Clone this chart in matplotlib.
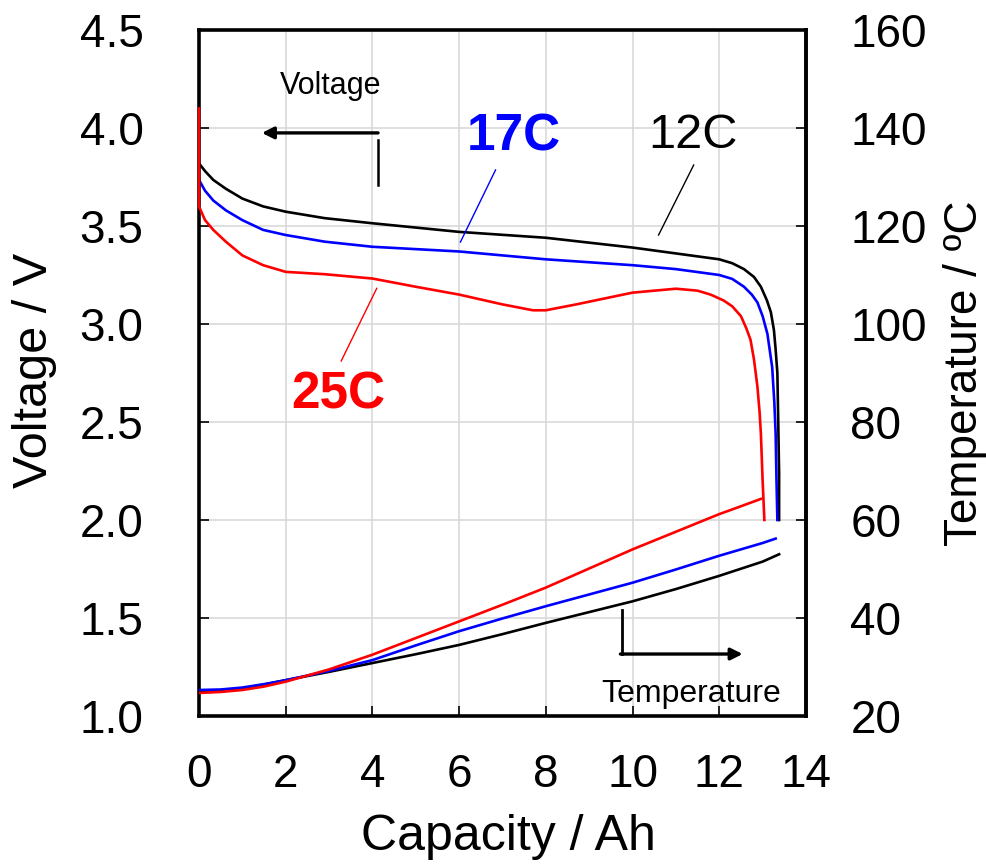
import numpy as np
import matplotlib
matplotlib.use('Agg')
import matplotlib.pyplot as plt

plt.rcParams['font.family'] = ['Liberation Sans', 'DejaVu Sans']

# ---- data (capacity in Ah) ----
# voltage curves (left axis, V)
cap_v12 = [0, 0.14, 0.33, 0.62, 1, 1.48, 2, 2.9, 4, 6, 8, 10, 11, 12, 12.3, 12.57, 12.8,
           12.96, 13.1, 13.19, 13.26, 13.3, 13.34, 13.36, 13.38, 13.38]
v12 = [3.82, 3.78, 3.735, 3.69, 3.64, 3.60, 3.573, 3.54, 3.514, 3.47, 3.44, 3.39, 3.36, 3.33, 3.31, 3.28, 3.24,
       3.19, 3.12, 3.06, 2.97, 2.87, 2.75, 2.5, 2.24, 2.00]

cap_v17 = [0, 0.14, 0.33, 0.62, 1, 1.48, 2, 2.9, 4, 6, 8, 10, 11, 12, 12.3, 12.57, 12.75,
           12.88, 13.0, 13.11, 13.22, 13.27, 13.30, 13.32, 13.34]
v17 = [3.735, 3.68, 3.63, 3.58, 3.53, 3.48, 3.454, 3.42, 3.394, 3.37, 3.33, 3.30, 3.28, 3.25, 3.23, 3.19, 3.15,
       3.11, 3.04, 2.95, 2.78, 2.6, 2.44, 2.2, 2.00]

cap_v25 = [0, 0, 0.14, 0.33, 0.62, 1, 1.48, 2, 2.9, 4, 5, 6, 7, 7.7, 8, 8.7, 10, 11, 11.5, 11.8,
           12.1, 12.3, 12.5, 12.62, 12.72, 12.8, 12.88, 12.93, 12.96, 13.0, 13.04]
v25 = [4.10, 3.60, 3.53, 3.48, 3.42, 3.35, 3.30, 3.266, 3.254, 3.232, 3.19, 3.15, 3.10, 3.07, 3.07, 3.10, 3.16, 3.18, 3.17, 3.15,
       3.12, 3.09, 3.04, 2.98, 2.92, 2.82, 2.68, 2.55, 2.44, 2.2, 2.00]

# temperature curves (right axis, degC)
cap_t12 = [0, 0.5, 1, 1.5, 2, 3, 4, 5, 6, 7, 8, 9, 10, 11, 12, 13, 13.38]
t12 = [24.9, 25.0, 25.6, 26.4, 27.3, 29.0, 30.8, 32.6, 34.5, 36.7, 39.0, 41.2, 43.4, 45.9, 48.6, 51.5, 53.0]

cap_t17 = [0, 0.5, 1, 1.5, 2, 3, 4, 5, 6, 7, 8, 9, 10, 11, 12, 13, 13.3]
t17 = [25.3, 25.4, 25.8, 26.5, 27.3, 29.2, 31.4, 34.4, 37.3, 39.9, 42.4, 44.8, 47.2, 49.9, 52.7, 55.3, 56.2]

cap_t25 = [0, 0.5, 1, 1.5, 2, 3, 4, 5, 6, 7, 8, 9, 10, 11, 12, 12.5, 12.96]
t25 = [24.7, 24.9, 25.3, 26.0, 27.0, 29.5, 32.5, 35.9, 39.3, 42.7, 46.2, 50.1, 54.0, 57.6, 61.2, 62.8, 64.3]

x_ticks = [0, 2, 4, 6, 8, 10, 12, 14]
v_ticks = [1.0, 1.5, 2.0, 2.5, 3.0, 3.5, 4.0, 4.5]
t_ticks = [20, 40, 60, 80, 100, 120, 140, 160]

RED, BLUE, BLACK = '#ff0000', '#0000ff', '#000000'

fig = plt.figure(figsize=(9.87, 8.65), dpi=100)
ax = fig.add_axes([0.2016, 0.1723, 0.615, 0.793])
ax2 = ax.twinx()

lw = 1.9
ax.plot(cap_v12, v12, color=BLACK, lw=lw)
ax.plot(cap_v17, v17, color=BLUE, lw=lw)
ax.plot(cap_v25, v25, color=RED, lw=lw, zorder=3, clip_on=False)
ax2.plot(cap_t12, t12, color=BLACK, lw=lw)
ax2.plot(cap_t17, t17, color=BLUE, lw=lw)
ax2.plot(cap_t25, t25, color=RED, lw=lw)

ax.set_xlim(0, 14)
ax.set_ylim(1.0, 4.5)
ax2.set_ylim(20, 160)
ax.set_xticks(x_ticks)
ax.set_yticks(v_ticks)
ax.set_yticklabels(['%.1f' % v for v in v_ticks])
ax2.set_yticks(t_ticks)
ax.grid(True, color='#d6d6d6', lw=1.1)
ax.set_axisbelow(True)

fs = 33
ax.tick_params(axis='x', direction='in', length=7, width=1.2, labelsize=fs, pad=27)
ax.tick_params(axis='y', direction='in', length=7, width=1.2, labelsize=fs, pad=40)
ax2.tick_params(axis='y', direction='in', length=7, width=1.2, labelsize=fs, pad=32)
for s in ax.spines.values():
    s.set_linewidth(2.6)
# the twin only keeps its right spine so the red spike at x=0 stays visible
for side in ('left', 'top', 'bottom'):
    ax2.spines[side].set_visible(False)
ax2.spines['right'].set_linewidth(2.6)

ax.set_xlabel('Capacity / Ah', fontsize=36)
ax.set_ylabel('Voltage / V', fontsize=35)
ax2.set_ylabel('Temperature / ºC', fontsize=33)
ax.xaxis.set_label_coords(0.509, -0.143)
ax.yaxis.set_label_coords(-0.234, 0.504)
ax2.yaxis.set_label_coords(1.226, 0.5)

# annotations
ax.text(3.03, 4.214, 'Voltage', fontsize=22, ha='center', va='center')
ax.annotate('', xy=(1.45, 3.975), xytext=(4.13, 3.975),
            arrowprops=dict(arrowstyle='-|>,head_length=0.7,head_width=0.35', lw=2.4, color=BLACK,
                            shrinkA=0, shrinkB=0))
ax.plot([4.13, 4.13], [3.939, 3.709], color=BLACK, lw=1.8)

ax.text(11.36, 1.112, 'Temperature', fontsize=23, ha='center', va='center')
ax.plot([9.75, 9.75], [1.541, 1.316], color=BLACK, lw=2.0)
ax.annotate('', xy=(12.54, 1.316), xytext=(9.72, 1.316),
            arrowprops=dict(arrowstyle='-|>,head_length=0.7,head_width=0.35', lw=2.4, color=BLACK,
                            shrinkA=0, shrinkB=0))

ax.text(7.25, 3.954, '17C', fontsize=37, fontweight='bold', color=BLUE, ha='center', va='center')
ax.plot([6.84, 6.03], [3.786, 3.418], color=BLUE, lw=1.0)
ax.text(11.39, 3.964, '12C', fontsize=35, color=BLACK, ha='center', va='center')
ax.plot([11.41, 10.60], [3.811, 3.454], color=BLACK, lw=1.0)
ax.text(3.21, 2.638, '25C', fontsize=37, fontweight='bold', color=RED, ha='center', va='center')
ax.plot([4.10, 3.28], [3.182, 2.811], color=RED, lw=1.0)

fig.savefig('out.png', dpi=100)
